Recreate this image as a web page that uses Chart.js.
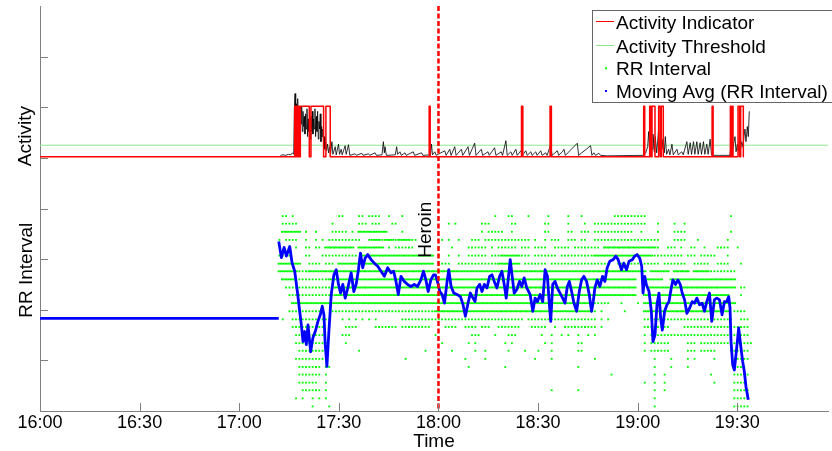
<!DOCTYPE html>
<html>
<head>
<meta charset="utf-8">
<script src="https://cdn.jsdelivr.net/npm/chart.js@4.4.1/dist/chart.umd.min.js"></script>
<style>
  html, body { margin: 0; padding: 0; background: #fff; }
  #wrap { width: 832px; height: 451px; }
</style>
</head>
<body>
<div id="wrap"><canvas id="hrvChart" width="832" height="451"></canvas></div>
<script>
const FONT = "'Liberation Sans', Arial, sans-serif";
const X_MAX = 237.3;      // minutes after 16:00 at the right edge
const ACT_BASE = 5.02;    // activity trace is stacked above the RR band

const tickMinutes = [0, 30, 60, 90, 120, 150, 180, 210];
const tickLabels = ["16:00", "16:30", "17:00", "17:30", "18:00", "18:30", "19:00", "19:30"];

const heroinMinute = 120;
const actThreshold = 0.23;

// raw activity signal (minutes after 16:00, activity units)
const actTimes = [
  72.4, 73.2, 74.0, 74.8, 75.5, 76.0, 76.4, 76.6, 76.8, 77.0, 77.2, 77.4, 77.6, 77.8, 78.0, 78.2,
  78.4, 78.6, 78.8, 79.0, 79.2, 79.4, 79.6, 79.8, 80.0, 80.2, 80.4, 80.6, 80.8, 81.0, 81.2, 81.4,
  81.6, 81.8, 82.0, 82.2, 82.4, 82.6, 82.8, 83.0, 83.2, 83.4, 83.6, 83.8, 84.0, 84.2, 84.4, 84.6,
  84.8, 85.0, 85.2, 85.4, 85.6, 85.8, 86.0, 86.3, 86.6, 86.9, 87.2, 87.5, 87.9, 88.2, 88.9, 89.2,
  89.9, 90.2, 90.7, 91.0, 91.9, 92.2, 92.9, 93.3, 94.9, 95.3, 96.9, 97.3, 98.9, 99.3, 100.9, 101.3,
  103.0, 103.4, 103.7, 103.9, 104.3, 107.0, 107.4, 107.7, 108.4, 108.8, 109.9, 110.3, 112.4, 112.8,
  114.9, 115.3, 117.6, 117.9, 118.2, 118.9, 119.3, 121.9, 122.3, 123.4, 123.8, 124.9, 125.3, 126.9,
  127.3, 128.9, 129.3, 130.9, 131.3, 132.9, 133.3, 134.9, 135.3, 136.9, 137.3, 138.9, 139.3, 140.3,
  140.7, 141.8, 142.2, 143.3, 143.7, 144.8, 145.2, 146.3, 146.7, 147.8, 148.2, 149.3, 149.7, 150.8,
  151.2, 152.3, 152.7, 153.8, 154.2, 155.8, 156.2, 157.3, 157.8, 158.2, 161.8, 162.2, 165.8, 166.2,
  166.8, 167.3, 168.3, 168.8, 170.8, 181.8, 182.4, 183.0, 183.3, 183.6, 184.0, 184.3, 184.6, 185.0,
  185.3, 185.7, 186.0, 186.3, 186.6, 187.0, 187.3, 187.6, 188.0, 188.3, 188.7, 189.3, 189.7, 190.3,
  190.7, 191.8, 192.2, 193.3, 193.7, 194.8, 195.2, 195.8, 196.2, 196.8, 197.2, 197.8, 198.2, 198.8,
  199.2, 199.8, 200.2, 200.8, 201.2, 201.8, 202.2, 202.8, 207.8, 208.1, 208.3, 208.6, 209.0, 209.3,
  209.6, 210.0, 210.3, 210.6, 211.0, 211.3, 211.7, 212.0, 212.3, 212.6, 213.0, 213.3, 213.6
];
const actValues = [
  0.03, 0.04, 0.03, 0.05, 0.04, 0.08, 0.05, 0.95, 1.25, 0.55, 1.05, 0.45, 1.15, 0.60, 0.95, 0.40,
  0.85, 0.65, 1.00, 0.50, 0.90, 0.60, 0.80, 0.45, 0.85, 0.55, 0.95, 0.40, 0.75, 0.50, 0.70, 0.35,
  0.80, 0.50, 0.90, 0.45, 0.75, 0.55, 0.95, 0.40, 0.80, 0.50, 0.90, 0.35, 0.70, 0.55, 0.85, 0.30,
  0.60, 0.40, 0.55, 0.20, 0.40, 0.15, 0.30, 0.12, 0.25, 0.08, 0.20, 0.05, 0.30, 0.05, 0.20, 0.04,
  0.25, 0.05, 0.15, 0.04, 0.22, 0.05, 0.24, 0.03, 0.06, 0.03, 0.07, 0.03, 0.06, 0.03, 0.08, 0.03,
  0.04, 0.30, 0.08, 0.20, 0.03, 0.04, 0.20, 0.05, 0.10, 0.03, 0.08, 0.03, 0.10, 0.03,
  0.08, 0.03, 0.04, 0.25, 0.04, 0.10, 0.03, 0.12, 0.03, 0.15, 0.03, 0.20, 0.03, 0.15,
  0.03, 0.20, 0.03, 0.27, 0.03, 0.15, 0.03, 0.10, 0.03, 0.18, 0.03, 0.10, 0.03, 0.32,
  0.03, 0.10, 0.03, 0.15, 0.03, 0.12, 0.03, 0.12, 0.03, 0.10, 0.03, 0.10, 0.03, 0.12,
  0.03, 0.08, 0.03, 0.25, 0.03, 0.12, 0.03, 0.10, 0.15, 0.03, 0.27, 0.03, 0.22, 0.03,
  0.08, 0.03, 0.07, 0.03, 0.02, 0.03, 0.08, 0.20, 0.50, 0.10, 0.35, 0.15, 0.45, 0.10,
  0.40, 0.08, 0.30, 0.55, 0.12, 0.30, 0.15, 0.35, 0.08, 0.40, 0.05, 0.15, 0.04, 0.25,
  0.04, 0.15, 0.04, 0.10, 0.04, 0.30, 0.05, 0.28, 0.05, 0.30, 0.05, 0.30, 0.05, 0.28,
  0.05, 0.30, 0.05, 0.25, 0.05, 0.35, 0.04, 0.03, 0.03, 0.30, 0.55, 0.15, 0.30, 0.40,
  0.10, 0.25, 0.12, 0.35, 0.15, 0.30, 0.20, 0.40, 0.55, 0.30, 0.60, 0.40, 0.90
];

// activity indicator: start / end of each "active" interval
const indOnTimes  = [76.7, 77.3, 77.9, 78.4, 81.6, 86.1, 117.2, 145.0, 153.6, 181.8, 183.6, 184.3, 186.3, 187.1, 202.4, 207.9, 208.5, 210.2, 211.0];
const indOffTimes = [77.0, 77.6, 78.1, 81.1, 85.4, 87.4, 117.5, 145.4, 154.0, 182.1, 184.0, 185.2, 186.8, 187.7, 202.7, 208.1, 208.7, 210.7, 211.8];
const indEndTime = 211.8;

// RR interval beats: quantised levels (top to bottom) and one-minute bins
// per level; token "a-b#" = bins a..b, density '.' sparse, ':' medium, '#' dense
const rrLevels = [3.85, 3.70, 3.54, 3.38, 3.23, 3.07, 2.91, 2.76, 2.60, 2.44, 2.29, 2.13, 1.97,
                  1.81, 1.66, 1.50, 1.34, 1.19, 1.03, 0.87, 0.72, 0.56, 0.41, 0.25, 0.09];
const rrBinStart = 70.6;
const rrRows = [
  "2-3. 5. 19-20. 25-26. 28-31. 34. 38. 66. 70-71. 76. 82. 88. 92. 102-111. 137.",
  "2-6: 17. 25-27: 29-31: 35-36. 52. 54. 62-64. 71-72. 81-82. 88. 93. 96-101. 102-111: 115. 120. 123.",
  "2-7# 9. 12. 17-20: 21. 23. 25-33# 38. 62. 64-68. 71. 81-82. 88-89. 92-94. 96-106: 107. 110. 115. 120-123. 137.",
  "1. 3-6: 9. 12. 14. 16-25: 28. 29-31# 32: 33-35# 36: 37-40# 41-42. 50. 52. 55. 59-61: 63-76: 78. 81. 83-85: 88-90: 92-93: 96-115: 120-123. 127. 136.",
  "6: 9-10: 12-13: 15-23# 25-32# 34. 36-41: 49. 53. 58-62: 63. 65. 67-72: 74-76: 78-80: 81. 84-87: 88. 90-95: 96-97: 99-114# 115. 118-120. 122. 125-126. 129. 133-135. 136. 139.",
  "1-4: 9-10: 14-24: 26-47# 49. 52. 55. 58-62: 63. 65-67: 68-73# 74-76: 78-84: 86-95: 96-113# 114-122: 124-126: 128-132: 136.",
  "1-7# 10-13: 15-17: 19-25# 27-47# 49-52: 55-66: 67-73# 75-81: 83-95: 96-100: 103-115: 117-123: 126-130: 133-136: 140.",
  "1-6# 7-9: 10-111# 113-118# 120-124# 126-130# 131-138:",
  "2-5# 7-15: 16-108# 111-116# 119-138#",
  "3-17: 18-108# 112-138# 140-141:",
  "4-17: 18-108# 111-136# 140.",
  "5-95# 96-100: 104. 109. 111-138#",
  "4-14: 17-19. 20-47: 48-95# 96. 98. 105. 111-136# 138-141:",
  "2. 5-16: 20. 22. 24. 26. 28. 30. 38-74: 76-95: 96. 98. 100. 111-137: 140-142:",
  "5-14: 21-24. 30-36. 38-46: 51-54. 57-60. 62-64. 67-73. 77-81. 84. 87-95. 96. 98. 111-118: 123-142:",
  "6-14: 20-22. 48. 59-61. 66. 70-72. 80. 83. 86. 88. 91. 94. 96. 111. 113-136: 138-142:",
  "6-15: 21. 50. 58. 60. 69. 71. 81. 83. 91-92. 111. 113-118: 124-126: 128-136: 138-143:",
  "7-15: 25. 45. 53. 60. 63. 70. 75. 79. 83. 91-92. 111. 113-118: 124-126: 128-132: 137-142:",
  "6-14: 39. 57. 63. 78. 83. 96. 114. 119. 124. 126. 132. 138-142:",
  "7-13: 15-16. 58. 69. 91. 114. 119. 124. 138-141:",
  "7-13: 15. 101. 114. 117. 131. 138-142:",
  "7-12: 15. 111. 114. 117. 132. 138-141:",
  "8-13. 15. 83. 91. 114. 117. 138-142:",
  "6. 8. 11. 13. 15. 114. 138-142.",
  "11. 16. 114. 138-142."
];

// moving average of RR interval; flat fill value before the recording starts
const rrFillTimes = [0, 71.9];
const rrFillValues = [1.83, 1.83];
const mavgTimes = [
  71.9, 72.7, 73.5, 74.2, 75.2, 75.9, 76.7, 77.5, 78.2, 78.7, 79.2, 79.7, 80.2, 80.7, 81.5, 82.2,
  82.9, 83.7, 84.4, 85.0, 85.5, 85.9, 86.4, 87.0, 87.7, 88.5, 89.2, 89.9, 90.5, 91.2, 91.9, 92.7,
  93.7, 94.5, 95.2, 95.9, 96.5, 97.2, 97.9, 98.7, 99.7, 100.7, 101.7, 102.7, 103.7, 104.7, 105.7, 106.5,
  107.2, 107.9, 108.7, 109.7, 110.7, 111.7, 112.7, 113.7, 114.7, 115.5, 116.2, 116.9, 117.7, 118.5, 119.1, 119.8,
  120.4, 121.1, 121.8, 122.6, 123.1, 123.8, 124.6, 125.6, 126.6, 127.4, 128.1, 128.8, 129.6, 130.4, 131.0, 131.6,
  132.4, 133.1, 133.8, 134.6, 135.4, 136.1, 136.8, 137.6, 138.4, 139.1, 139.8, 140.4, 141.1, 141.6, 142.2, 142.8,
  143.6, 144.4, 145.1, 145.8, 146.6, 147.6, 148.4, 149.1, 149.8, 150.6, 151.4, 152.1, 152.8, 153.4, 153.8, 154.4,
  155.1, 155.8, 156.6, 157.4, 158.1, 158.8, 159.4, 160.1, 160.8, 161.6, 162.4, 163.1, 163.8, 164.6, 165.4, 166.1,
  166.6, 167.1, 167.8, 168.6, 169.4, 170.1, 170.8, 171.6, 172.6, 173.4, 174.1, 175.1, 175.8, 176.6, 177.4, 178.4,
  179.1, 179.8, 180.6, 181.2, 181.6, 182.1, 182.6, 183.4, 184.1, 184.6, 185.2, 185.8, 186.4, 186.9, 187.4, 188.1,
  188.8, 189.4, 190.1, 190.6, 191.4, 192.1, 192.8, 193.4, 194.1, 194.8, 195.6, 196.4, 197.1, 197.8, 198.6, 199.4,
  200.1, 200.8, 201.6, 202.3, 203.1, 203.8, 204.6, 205.4, 206.1, 206.8, 207.4, 207.8, 208.1, 208.6, 209.1, 209.8,
  210.4, 211.1, 211.6, 212.1, 212.6, 213.3
];
const mavgValues = [
  3.35, 3.03, 3.23, 3.06, 3.25, 2.93, 2.76, 2.36, 1.97, 1.70, 1.37, 1.57, 1.31, 1.70, 1.17, 1.45,
  1.57, 1.77, 1.90, 2.07, 1.90, 1.31, 0.88, 1.57, 2.30, 2.69, 2.79, 2.50, 2.33, 2.50, 2.23, 2.43,
  2.73, 2.36, 2.50, 2.79, 3.12, 2.83, 3.02, 3.09, 2.99, 2.92, 2.86, 2.76, 2.66, 2.83, 2.73, 2.76,
  2.56, 2.30, 2.66, 2.56, 2.50, 2.46, 2.50, 2.46, 2.59, 2.76, 2.59, 2.36, 2.59, 2.69, 2.69, 2.53,
  2.36, 2.30, 2.13, 2.56, 2.79, 2.46, 2.33, 2.30, 2.26, 2.10, 1.87, 2.10, 2.33, 2.23, 2.16, 2.43,
  2.50, 2.36, 2.50, 2.43, 2.66, 2.69, 2.56, 2.43, 2.66, 2.76, 2.50, 2.23, 2.66, 2.99, 2.66, 2.33,
  2.40, 2.56, 2.46, 2.63, 2.43, 2.30, 1.97, 2.23, 2.16, 2.30, 2.16, 2.79, 2.66, 2.10, 1.77, 2.50,
  2.56, 2.43, 2.33, 2.23, 2.13, 2.46, 2.56, 2.36, 2.13, 1.97, 2.36, 2.59, 2.66, 2.56, 2.30, 1.97,
  2.16, 2.43, 2.59, 2.46, 2.66, 2.56, 2.83, 2.96, 2.99, 3.06, 2.99, 2.79, 2.92, 2.79, 2.96, 2.99,
  3.06, 3.09, 3.02, 2.86, 2.33, 2.66, 2.50, 2.36, 1.97, 1.37, 1.50, 2.10, 2.33, 1.84, 1.60, 1.97,
  2.10, 2.16, 2.43, 2.59, 2.50, 2.59, 2.50, 2.33, 2.20, 1.93, 2.03, 2.16, 2.13, 2.23, 2.10, 2.13,
  1.97, 2.16, 2.33, 1.77, 2.20, 2.23, 2.20, 1.90, 2.16, 2.16, 2.26, 2.03, 1.37, 0.91, 0.81, 1.24,
  1.64, 1.24, 0.98, 0.78, 0.48, 0.22
];

const legendLabels = ["Activity Indicator", "Activity Threshold", "RR Interval", "Moving Avg (RR Interval)"];
const COLORS = { ind: "#ff0000", thr: "#8fe68f", rr: "#00ff00", mavg: "#0000ff", act: "#000000", axis: "#808080" };

function zip(xs, ys) {
  return xs.map((x, i) => ({ x: x, y: ys[i] }));
}

function rrPoints() {
  const per = { ".": 1, ":": 1, "#": 2 };
  const pts = [];
  rrRows.forEach((row, r) => {
    row.split(" ").forEach(tok => {
      const m = tok.match(/^(\d+)(?:-(\d+))?([.:#])$/);
      if (!m) return;
      const a = +m[1], b = m[2] ? +m[2] : a, n = per[m[3]];
      for (let i = a; i <= b; i++)
        for (let k = 0; k < n; k++)
          pts.push({ x: rrBinStart + i + (k + 0.5) / n, y: rrLevels[r] });
    });
  });
  return pts;
}

function indicatorPoints() {
  const pts = [{ x: 0, y: ACT_BASE }];
  indOnTimes.forEach((t, i) => {
    const off = indOffTimes[i];
    pts.push({ x: t, y: ACT_BASE }, { x: t, y: ACT_BASE + 1 },
             { x: off, y: ACT_BASE + 1 }, { x: off, y: ACT_BASE });
  });
  pts.push({ x: indEndTime, y: ACT_BASE });
  return pts;
}

const lineSet = (data, color, width, order) => ({
  type: "line", data: data, showLine: true, borderColor: color, borderWidth: width,
  pointRadius: 0, tension: 0, order: order, borderJoinStyle: "round"
});

// inward tick marks, texts, the event marker and the legend box
const decorations = {
  id: "decorations",
  afterDatasetsDraw(chart) {
    const { ctx, chartArea } = chart;
    const x0 = chart.scales.x.getPixelForValue(heroinMinute);
    ctx.save();
    ctx.strokeStyle = COLORS.ind;
    ctx.lineWidth = 2.5;
    ctx.setLineDash([5, 2.5]);
    ctx.beginPath();
    ctx.moveTo(x0, chartArea.top);
    ctx.lineTo(x0, chartArea.bottom);
    ctx.stroke();
    ctx.restore();
  },
  afterDraw(chart) {
    const { ctx, chartArea } = chart;
    const xs = chart.scales.x, ys = chart.scales.y;

    ctx.save();
    ctx.strokeStyle = COLORS.axis;
    ctx.lineWidth = 1;
    ctx.beginPath();
    tickMinutes.forEach(t => {
      const px = Math.round(xs.getPixelForValue(t)) + 0.5;
      ctx.moveTo(px, chartArea.bottom);
      ctx.lineTo(px, chartArea.bottom - 8);
    });
    for (let v = 1; v <= 7; v++) {
      const py = Math.round(ys.getPixelForValue(v)) + 0.5;
      ctx.moveTo(chartArea.left, py);
      ctx.lineTo(chartArea.left + 8, py);
    }
    ctx.stroke();

    ctx.fillStyle = "#000";
    ctx.font = "19px " + FONT;
    ctx.textAlign = "center";
    ctx.textBaseline = "alphabetic";
    const vtext = (txt, x, y) => {
      ctx.save();
      ctx.translate(x, y);
      ctx.rotate(-Math.PI / 2);
      ctx.fillText(txt, 0, 0);
      ctx.restore();
    };
    vtext("Activity", 31, ys.getPixelForValue(5.43));
    vtext("RR Interval", 32, ys.getPixelForValue(2.78));
    vtext("Heroin", xs.getPixelForValue(heroinMinute) - 7, ys.getPixelForValue(3.58));

    // legend
    const lx = 592.5, ly = 10.5;
    ctx.fillStyle = "#fff";
    ctx.fillRect(lx, ly, 260, 92);
    ctx.strokeStyle = "#666";
    ctx.strokeRect(lx, ly, 260, 92);
    const rows = [21.5, 45.5, 68.3, 91];
    ctx.textAlign = "left";
    legendLabels.forEach((lab, i) => {
      const y = rows[i];
      if (i < 2) {
        ctx.strokeStyle = i === 0 ? COLORS.ind : COLORS.thr;
        ctx.lineWidth = 1;
        ctx.beginPath();
        ctx.moveTo(596, y);
        ctx.lineTo(614, y);
        ctx.stroke();
      } else {
        ctx.fillStyle = i === 2 ? COLORS.rr : COLORS.mavg;
        ctx.fillRect(605, y - 1, 2, 2);
      }
      ctx.fillStyle = "#000";
      ctx.fillText(lab, 616, y + 7);
    });
    ctx.restore();
  }
};

new Chart(document.getElementById("hrvChart"), {
  type: "scatter",
  data: {
    datasets: [
      {
        label: legendLabels[2], data: rrPoints(), pointStyle: "rect", pointRadius: 1.3,
        backgroundColor: COLORS.rr, borderWidth: 0, order: 3
      },
      lineSet(zip(rrFillTimes, rrFillValues), COLORS.mavg, 2.8, 1),
      lineSet(zip(mavgTimes, mavgValues), COLORS.mavg, 2.8, 1),
      lineSet([{ x: 0, y: ACT_BASE + actThreshold }, { x: X_MAX, y: ACT_BASE + actThreshold }], COLORS.thr, 1, 7),
      lineSet(zip(actTimes, actValues.map(v => v + ACT_BASE)), COLORS.act, 0.8, 6),
      lineSet(indicatorPoints(), COLORS.ind, 1.5, 5)
    ]
  },
  options: {
    responsive: false,
    animation: false,
    events: [],
    layout: { padding: { top: 6, right: 0, bottom: 0, left: 0 } },
    plugins: { legend: { display: false }, tooltip: { enabled: false } },
    scales: {
      x: {
        type: "linear", min: 0, max: X_MAX,
        afterFit: s => { s.height = 40; },
        afterBuildTicks: s => { s.ticks = tickMinutes.map(v => ({ value: v })); },
        grid: { display: false, drawTicks: false },
        border: { display: true, color: COLORS.axis, width: 1 },
        ticks: {
          callback: v => tickLabels[tickMinutes.indexOf(v)],
          color: "#000", font: { family: FONT, size: 18 }, padding: 1,
          maxRotation: 0, autoSkip: false
        },
        title: {
          display: true, text: "Time", color: "#000",
          font: { family: FONT, size: 19 }, padding: { top: 0, bottom: -2 }
        }
      },
      y: {
        type: "linear", min: 0, max: 8,
        afterFit: s => { s.width = 40; },
        grid: { display: false, drawTicks: false },
        border: { display: true, color: COLORS.axis, width: 1 },
        ticks: { display: false }
      }
    }
  },
  plugins: [decorations]
});
</script>
</body>
</html>
